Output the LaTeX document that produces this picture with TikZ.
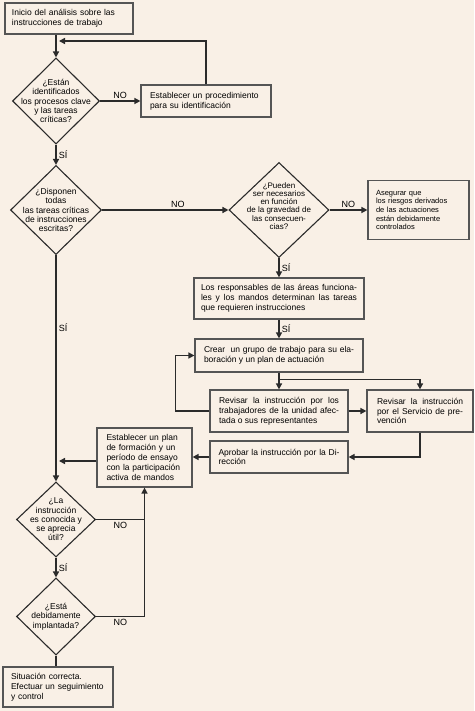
\documentclass[tikz,border=0pt]{standalone}
\usepackage{fontspec}
\setmainfont{Liberation Sans}
\usepackage{tikz}
\usetikzlibrary{shapes.geometric, arrows.meta, positioning}
\definecolor{paperbg}{HTML}{F9F0E6}
\definecolor{linecol}{HTML}{2B2B2B}
\definecolor{framecol}{HTML}{555555}

\begin{document}
\begin{tikzpicture}[x=1pt, y=-1pt,
    box/.style={rectangle, draw=framecol, line width=1.2pt, align=left, inner sep=0pt, font=\fontsize{8.5}{9.8}\selectfont},
    decision/.style={diamond, draw=linecol, line width=1.1pt, inner sep=0pt},
    dtext/.style={align=center, inner sep=0pt, font=\fontsize{8.5}{9.3}\selectfont},
    arrow/.style={-{Triangle[length=6pt, width=6pt]}, line width=1.5pt, draw=linecol},
    line/.style={line width=1.5pt, draw=linecol},
    answer/.style={font=\fontsize{9}{10}\selectfont, inner sep=2pt}
]

\fill[paperbg] (0,0) rectangle (474,711);
\useasboundingbox (0,0) rectangle (474,711);

\node[box, minimum width=128, minimum height=31, text width=114] (start) at (69,18.5) {Inicio del análisis sobre las\\instrucciones de trabajo};
\node[decision, minimum width=87, minimum height=86] (d1) at (56,101) {};
\node[dtext] (d1t) at (d1) {¿Están\\identificados\\los procesos clave\\y las tareas\\críticas?};
\node[box, minimum width=130, minimum height=32, text width=112] (est) at (206,101) {Establecer un procedimiento\\para su identificación};
\coordinate (back) at (59,41);

\node[decision, minimum width=91, minimum height=89] (d2) at (56,210) {};
\node[dtext] (d2t) at (d2) {¿Disponen\\todas\\las tareas críticas\\de instrucciones\\escritas?};
\node[decision, minimum width=100, minimum height=95] (d3) at (279,210) {};
\node[dtext, font=\fontsize{8}{8.2}\selectfont] (d3t) at (279,206) {¿Pueden\\ser necesarios\\en función\\de la gravedad de\\las consecuen-\\cias?};
\node[box, minimum width=101, minimum height=59, text width=85, font=\fontsize{7.5}{8.6}\selectfont] (aseg) at (418.5,210) {Asegurar que\\los riesgos derivados\\de las actuaciones\\están debidamente\\controlados};

\node[box, align=justify, minimum width=170, minimum height=41, text width=156] (resp) at (279,298.5) {Los responsables de las áreas funciona-\linebreak les y los mandos determinan las tareas\linebreak que requieren instrucciones};
\node[box, align=justify, minimum width=168, minimum height=33, text width=150] (crear) at (279,355.5) {Crear\ \ un grupo de trabajo para su ela-\linebreak boración y un plan de actuación};
\node[box, align=justify, minimum width=138, minimum height=42, text width=120] (rev1) at (279,411) {Revisar la instrucción por los\linebreak trabajadores de la unidad afec-\linebreak tada o sus representantes};
\node[box, align=justify, minimum width=106, minimum height=42, text width=86] (rev2) at (420,411) {Revisar la instrucción\linebreak por el Servicio de pre-\linebreak vención};
\node[box, align=justify, minimum width=138, minimum height=32, text width=121] (aprob) at (279,457) {Aprobar la instrucción por la Di-\linebreak rección};
\node[box, minimum width=95, minimum height=59, text width=76] (plan) at (144.5,457.5) {Establecer un plan\\de formación y un\\período de ensayo\\con la participación\\activa de mandos};
\coordinate (join) at (59,461);

\node[decision, minimum width=79, minimum height=75] (d4) at (56,519.5) {};
\node[dtext] (d4t) at (d4) {¿La\\instrucción\\es conocida y\\se aprecia\\útil?};
\node[decision, minimum width=79, minimum height=77] (d5) at (56,616.5) {};
\node[dtext] (d5t) at (d5) {¿Está\\debidamente\\implantada?};
\node[box, minimum width=110, minimum height=40, text width=94] (sit) at (58,687) {Situación correcta.\\Efectuar un seguimiento\\y control};

\draw[arrow] (start.south -| d1) -- (d1.north);
\draw[arrow] (d1.east) -- node[answer, above] {NO} (est.west);
\draw[arrow] (est.north) |- (back);
\draw[arrow] (d1.south) -- node[answer, right] {SÍ} (d2.north);
\draw[arrow] (d2.east) -- node[answer, above, pos=0.6] {NO} (d3.west);
\draw[arrow] (d3.east) -- node[answer, above] {NO} (aseg.west);
\draw[arrow] (d3.south) -- node[answer, right] {SÍ} (resp.north);
\draw[arrow] (resp.south) -- node[answer, right] {SÍ} (crear.north);
\draw[arrow] (crear.south) -- (rev1.north);
\draw[arrow] (crear.south) ++(0,7) -| (rev2.north);
\draw[arrow] (rev1.east) -- (rev2.west);
\draw[arrow] (rev1.west) -- ++(-34,0) |- (crear.west);
\draw[arrow] (rev2.south) |- (aprob.east);
\draw[arrow] (aprob.west) -- (aprob.west -| plan.east);
\draw[arrow] (plan.west |- join) -- (join);
\draw[arrow] (d2.south) -- node[answer, right, pos=0.32] {SÍ} (d4.north);
\draw[line] (d4.east) -- node[answer, below] {NO} (d4.east -| plan.south);
\draw[arrow] (d5.east) -| node[answer, below, pos=0.25] {NO} (plan.south);
\draw[arrow] (d4.south) -- node[answer, right] {SÍ} (d5.north);
\draw[line] (d5.south) -- (d5.south |- sit.north);

\end{tikzpicture}
\end{document}
